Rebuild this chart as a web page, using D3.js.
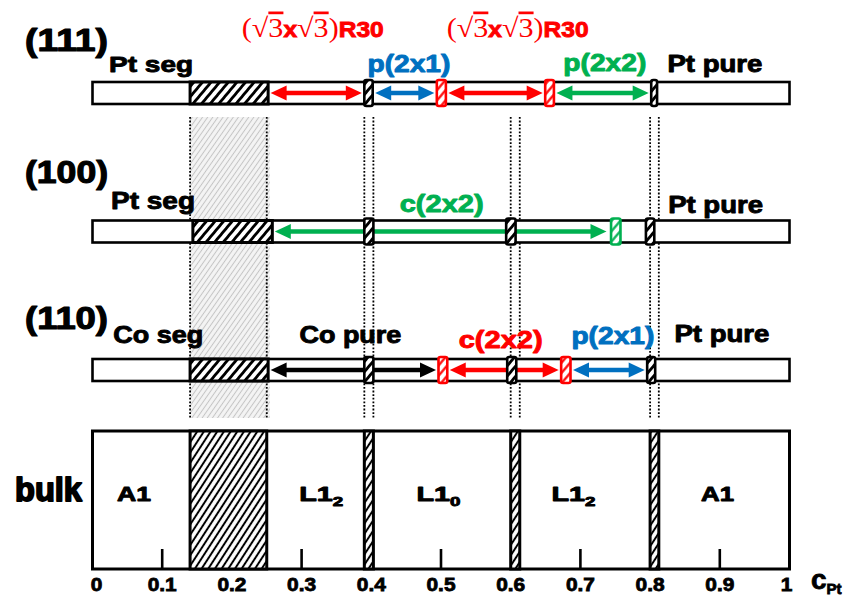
<!DOCTYPE html>
<html><head><meta charset="utf-8">
<script src="https://cdn.jsdelivr.net/npm/d3@7"></script>
<style>
body{margin:0;background:#fff}
svg{display:block}
text{font-family:"Liberation Sans",Arial,sans-serif;font-weight:bold}
</style></head><body>
<svg id="chart" width="848" height="596"></svg>
<script>
// ---------------- data ----------------
const cTicks = [0, 0.1, 0.2, 0.3, 0.4, 0.5, 0.6, 0.7, 0.8, 0.9, 1];
const cTickLabels = ["0", "0.1", "0.2", "0.3", "0.4", "0.5", "0.6", "0.7", "0.8", "0.9", "1"];
const minorTicks = [0.1, 0.3, 0.5, 0.7, 0.9];
const twoPhase = [[0.14, 0.25], [0.39, 0.403], [0.60, 0.613], [0.80, 0.8125]];
const bulkPhaseNames = ["A1", "L1", "L1", "L1", "A1"];
const bulkPhaseSubs = ["", "2", "0", "2", ""];
const bulkPhaseAt = [0.0596, 0.328, 0.4964, 0.690, 0.8967];
const facets = ["(111)", "(100)", "(110)"];

const boxes111 = [[0.14, 0.252, "K"], [0.39, 0.402, "K"], [0.494, 0.507, "R"], [0.6495, 0.662, "R"], [0.8016, 0.810, "K"]];
const arrows111 = [[0.252, 0.39, "R"], [0.402, 0.494, "B"], [0.507, 0.6495, "R"], [0.662, 0.8016, "G"]];
const labels111 = [["Pt seg", 0.084, "K"], ["p(2x1)", 0.454, "B"], ["p(2x2)", 0.735, "G"], ["Pt pure", 0.893, "K"]];
const sqrtLabels111 = [0.316, 0.610];

const boxes100 = [[0.144, 0.258, "K"], [0.39, 0.403, "K"], [0.5935, 0.607, "K"], [0.744, 0.7575, "G"], [0.794, 0.806, "K"]];
const arrows100 = [[0.258, 0.741, "G"]];
const labels100 = [["Pt seg", 0.0868, "K"], ["c(2x2)", 0.501, "G"], ["Pt pure", 0.894, "K"]];

const boxes110 = [[0.14, 0.252, "K"], [0.39, 0.403, "K"], [0.4964, 0.509, "R"], [0.595, 0.608, "K"], [0.6724, 0.6858, "R"], [0.7958, 0.8073, "K"]];
const arrows110 = [[0.252, 0.4964, "K"], [0.509, 0.6724, "R"], [0.6858, 0.7958, "B"]];
const labels110 = [["Co seg", 0.0944, "K"], ["Co pure", 0.370, "K"], ["c(2x2)", 0.5856, "R"], ["p(2x1)", 0.7466, "B"], ["Pt pure", 0.903, "K"]];

const facetBoxes = [boxes111, boxes100, boxes110];
const facetArrows = [arrows111, arrows100, arrows110];
const facetLabels = [labels111, labels100, labels110];

// ---------------- layout / style ----------------
const svg = d3.select("#chart");
const x = d3.scaleLinear().domain([0, 1]).range([92.5, 789.5]);
const yRow = d3.scalePoint().domain(facets).range([93, 370]);
const barH = 22;
const bulkTop = 431, bulkBot = 569;
const colour = d3.scaleOrdinal().domain(["K", "R", "G", "B"]).range(["#000000", "#ff0000", "#00b050", "#0070c0"]);
const labelW = {"Pt seg": 84, "Pt pure": 95, "p(2x1)": 83, "p(2x2)": 83, "c(2x2)": 84, "Co seg": 90, "Co pure": 102};
const labelBase = [[72, 72, 71, 72], [209, 212, 213], [343, 343, 348, 344, 342]];
const labelSize = [23, 24, 23];
const titleBase = [51, 183, 329];

const defs = svg.append("defs");
function hatch(id, spacing, angle, col, sw, bg) {
  const p = defs.append("pattern").attr("id", id).attr("patternUnits", "userSpaceOnUse")
    .attr("width", spacing).attr("height", 10).attr("patternTransform", `rotate(${angle})`);
  if (bg) p.append("rect").attr("width", spacing).attr("height", 10).attr("fill", bg);
  p.append("line").attr("x1", spacing / 2).attr("x2", spacing / 2).attr("y1", -1).attr("y2", 11)
    .attr("stroke", col).attr("stroke-width", sw);
}
hatch("hK", 6.6, 40, "#000", 2.8, "#fff");
hatch("hR", 6.6, 40, "#ff0000", 2.2, "#fff");
hatch("hG", 6.6, 40, "#00b050", 2.2, "#fff");
hatch("hB", 6.6, 40, "#0070c0", 2.2, "#fff");
hatch("hBulk", 5.6, 33, "#000", 2.0, "#fff");
hatch("hGray", 4.2, 35, "#c4c4c4", 1.0, "#f4f4f4");

function fitText(t, cx, y, w, heavy) {
  const len = t.node().getComputedTextLength();
  t.attr("text-anchor", "middle").attr("x", 0).attr("y", 0)
    .attr("transform", `translate(${cx},${y}) scale(${w / len},1)`);
  if (heavy) t.attr("stroke", t.attr("fill") || "#000").attr("stroke-width", heavy).attr("stroke-linejoin", "round");
  return t;
}

// gray two-phase band and dotted guide lines
const bandTop = 117, bandBot = 418;
svg.append("rect").attr("x", x(twoPhase[0][0])).attr("width", x(twoPhase[0][1]) - x(twoPhase[0][0]) + 3)
  .attr("y", bandTop).attr("height", bandBot - bandTop).attr("fill", "url(#hGray)");
const guideXs = twoPhase.flat();
svg.selectAll("line.guide").data(guideXs).join("line").attr("class", "guide")
  .attr("x1", d => x(d)).attr("x2", d => x(d)).attr("y1", bandTop).attr("y2", bandBot)
  .attr("stroke", "#000").attr("stroke-width", 1.8).attr("stroke-dasharray", "1.8,1.8");

// facet rows
function arrow(g, x1, x2, y, col) {
  const hl = 16, hw = 7.5, lw = 4.5;
  g.append("line").attr("x1", x1 + hl - 1).attr("x2", x2 - hl + 1).attr("y1", y).attr("y2", y)
    .attr("stroke", col).attr("stroke-width", lw);
  g.append("path").attr("d", `M${x1},${y}L${x1 + hl},${y - hw}L${x1 + hl},${y + hw}Z`).attr("fill", col);
  g.append("path").attr("d", `M${x2},${y}L${x2 - hl},${y - hw}L${x2 - hl},${y + hw}Z`).attr("fill", col);
}

facets.forEach((f, i) => {
  const yc = yRow(f);
  const g = svg.append("g");
  g.append("rect").attr("x", x(0)).attr("width", x(1) - x(0)).attr("y", yc - barH / 2).attr("height", barH)
    .attr("fill", "#fff").attr("stroke", "#000").attr("stroke-width", 2.6);
  facetArrows[i].forEach(a => arrow(g, x(a[0]) + 2.5, x(a[1]) - 2.5, yc, colour(a[2])));
  facetBoxes[i].forEach(b => {
    const big = (b[1] - b[0]) > 0.05;
    g.append("rect").attr("x", x(b[0])).attr("width", x(b[1]) - x(b[0]))
      .attr("y", yc - barH / 2 - (big ? 0 : 2)).attr("height", barH + (big ? 0 : 4))
      .attr("rx", big ? 0 : 2)
      .attr("fill", `url(#h${b[2]})`).attr("stroke", colour(b[2])).attr("stroke-width", big ? 3 : 2.6);
  });
  // title
  fitText(g.append("text").text(f).attr("font-size", 32).attr("fill", "#000"), 66.5, titleBase[i], 83, 1.2);
  // labels
  facetLabels[i].forEach((l, j) => {
    fitText(g.append("text").text(l[0]).attr("font-size", labelSize[i]).attr("fill", colour(l[2])),
      x(l[1]), labelBase[i][j], labelW[l[0]], 0.9);
  });
});

// sqrt3 labels
sqrtLabels111.forEach(c => {
  const t = svg.append("text").attr("fill", "#ff0000");
  const serif = '"Liberation Serif","Times New Roman",serif';
  t.append("tspan").text("(\u221A").attr("font-family", serif).attr("font-weight", "normal").attr("font-size", 27);
  t.append("tspan").text("3").attr("font-family", serif).attr("font-weight", "normal").attr("font-size", 27)
    .attr("text-decoration", "overline");
  t.append("tspan").text("x").attr("font-size", 22).attr("stroke", "#ff0000").attr("stroke-width", 0.9);
  t.append("tspan").text("\u221A").attr("font-family", serif).attr("font-weight", "normal").attr("font-size", 27);
  t.append("tspan").text("3").attr("font-family", serif).attr("font-weight", "normal").attr("font-size", 27)
    .attr("text-decoration", "overline");
  t.append("tspan").text(")").attr("font-family", serif).attr("font-weight", "normal").attr("font-size", 27);
  t.append("tspan").text("R30").attr("font-size", 22).attr("stroke", "#ff0000").attr("stroke-width", 0.9);
  fitText(t, x(c), 37, 142);
});

// bulk panel
svg.append("rect").attr("x", x(0)).attr("width", x(1) - x(0)).attr("y", bulkTop).attr("height", bulkBot - bulkTop)
  .attr("fill", "#fff").attr("stroke", "#000").attr("stroke-width", 3);
svg.selectAll("rect.tp").data(twoPhase).join("rect").attr("class", "tp")
  .attr("x", d => x(d[0])).attr("width", d => x(d[1]) - x(d[0]))
  .attr("y", bulkTop).attr("height", bulkBot - bulkTop)
  .attr("fill", "url(#hBulk)").attr("stroke", "#000").attr("stroke-width", 3);
svg.selectAll("line.mt").data(minorTicks).join("line").attr("class", "mt")
  .attr("x1", d => x(d)).attr("x2", d => x(d)).attr("y1", bulkBot).attr("y2", bulkBot - 20)
  .attr("stroke", "#000").attr("stroke-width", 2.6);

fitText(svg.append("text").text("bulk").attr("font-size", 33).attr("fill", "#000"), 48.5, 501, 67, 1.8);

const bulkW = [34, 44, 44, 44, 33];
bulkPhaseNames.forEach((n, i) => {
  const t = svg.append("text").attr("font-size", 20).attr("fill", "#000");
  t.append("tspan").text(n);
  if (bulkPhaseSubs[i]) t.append("tspan").text(bulkPhaseSubs[i]).attr("font-size", 13).attr("dy", 5);
  fitText(t, x(bulkPhaseAt[i]), 501, bulkW[i], 0.9);
});

// x axis labels
svg.selectAll("text.tl").data(cTicks).join("text").attr("class", "tl")
  .text((d, i) => cTickLabels[i]).attr("font-size", 19)
  .attr("text-anchor", "middle").attr("stroke", "#000").attr("stroke-width", 0.8)
  .attr("transform", d => `translate(${x(d) + (d === 0 ? 4 : d === 1 ? -3 : 0)},591) scale(1.1,1)`);

const ct = svg.append("text").attr("x", 811).attr("y", 589).attr("font-size", 28)
  .attr("stroke", "#000").attr("stroke-width", 0.8);
ct.append("tspan").text("c");
ct.append("tspan").text("Pt").attr("font-size", 15).attr("dy", 5);
</script>
</body></html>
